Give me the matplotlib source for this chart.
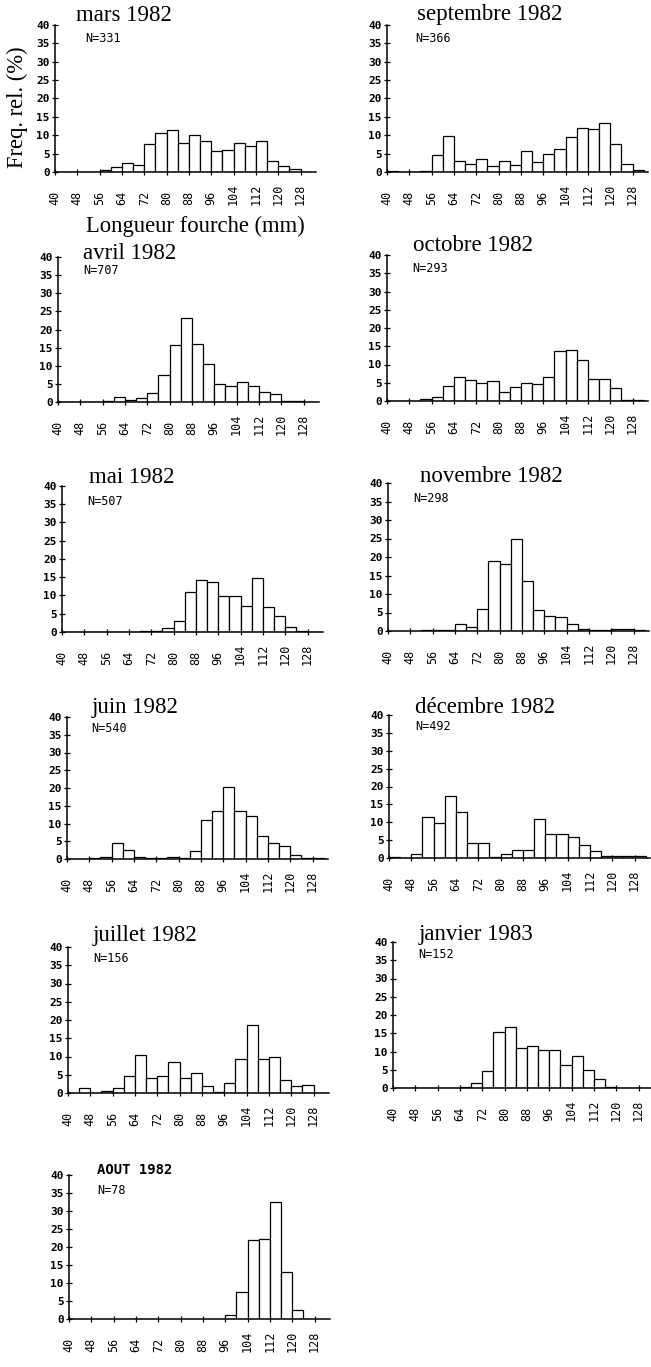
import numpy as np
import matplotlib
matplotlib.use("Agg")
import matplotlib.pyplot as plt

# ---------------- data ----------------
bin_starts = list(range(40, 132, 4))          # 4-mm length classes 40..128
x_ticks = list(range(40, 129, 8))
x_tick_labels = [str(v) for v in x_ticks]
y_ticks = list(range(0, 41, 5))
y_tick_labels = [str(v) for v in y_ticks]

mars = [0.1, 0.1, 0.1, 0.1, 0.5, 1.3, 2.5, 1.8, 7.7, 10.6, 11.4, 7.9, 10.2, 8.5,
        5.7, 6.1, 7.9, 7.0, 8.5, 3.0, 1.6, 0.9, 0.0]
septembre = [0.3, 0.1, 0.0, 0.3, 4.7, 9.7, 3.0, 2.3, 3.6, 1.6, 2.9, 1.8, 5.7, 2.7,
             4.8, 6.2, 9.4, 12.0, 11.7, 13.2, 7.7, 2.3, 0.6]
avril = [0.1, 0.1, 0.1, 0.1, 0.2, 1.4, 0.6, 1.1, 2.5, 7.5, 15.7, 23.3, 16.0, 10.6,
         4.9, 4.5, 5.5, 4.4, 2.7, 2.1, 0.4, 0.2, 0.1]
octobre = [0.1, 0.1, 0.1, 0.5, 1.2, 4.2, 6.7, 5.8, 5.0, 5.6, 2.4, 3.7, 5.0, 4.6,
           6.5, 13.8, 14.1, 11.1, 5.9, 5.9, 3.5, 0.3, 0.2]
mai = [0.1, 0.1, 0.1, 0.1, 0.1, 0.1, 0.1, 0.2, 0.2, 1.0, 3.0, 10.9, 14.2, 13.7,
       9.9, 9.9, 7.1, 14.8, 6.9, 4.5, 1.4, 0.2, 0.0]
novembre = [0.1, 0.1, 0.1, 0.2, 0.2, 0.3, 1.8, 1.0, 5.9, 19.0, 18.1, 24.8, 13.6,
            5.7, 4.1, 3.7, 1.8, 0.6, 0.4, 0.4, 0.5, 0.5, 0.4]
juin = [0.1, 0.0, 0.3, 0.6, 4.6, 2.6, 0.7, 0.2, 0.2, 0.5, 0.3, 2.2, 11.0, 13.5,
        20.2, 13.4, 12.2, 6.6, 4.4, 3.7, 1.2, 0.3, 0.3]
decembre = [0.2, 0.0, 1.2, 11.5, 9.9, 17.3, 13.0, 4.3, 4.3, 0.4, 1.0, 2.3, 2.3,
            10.8, 6.6, 6.7, 5.8, 3.6, 1.9, 0.6, 0.6, 0.6, 0.6]
juillet = [0.0, 1.3, 0.0, 0.5, 1.4, 4.6, 10.4, 4.0, 4.7, 8.5, 4.0, 5.5, 2.0, 0.3,
           2.7, 9.3, 18.6, 9.3, 10.0, 3.6, 1.9, 2.3, 0.0]
janvier = [0.0, 0.1, 0.1, 0.1, 0.1, 0.1, 0.2, 1.5, 4.7, 15.3, 16.6, 10.9, 11.6,
           10.3, 10.3, 6.4, 8.9, 5.0, 2.5, 0.2, 0.1, 0.1, 0.1]
aout = [0.1, 0.1, 0.1, 0.1, 0.1, 0.1, 0.1, 0.1, 0.1, 0.1, 0.1, 0.1, 0.1, 0.1,
        1.1, 7.6, 22.0, 22.2, 32.4, 13.0, 2.4, 0.0, 0.0]

titles = ["mars 1982", "septembre 1982", "avril 1982", "octobre 1982",
          "mai 1982", "novembre 1982", "juin 1982", "décembre 1982",
          "juillet 1982", "janvier 1983", "AOUT 1982"]
n_labels = ["N=331", "N=366", "N=707", "N=293", "N=507", "N=298", "N=540",
            "N=492", "N=156", "N=152", "N=78"]
series = [mars, septembre, avril, octobre, mai, novembre, juin, decembre,
          juillet, janvier, aout]

y_label = "Freq. rel. (%)"
x_label = "Longueur fourche (mm)"

# ---------------- layout (pixels) ----------------
W, H = 651, 1367
PX_PER_MM = 2.79
X_MAX = 133.5
# (axis x, y of 40, y of 0, title x, title baseline, N x, N y)
layout = [
    (55, 25, 172, 76, 21, 85, 39),
    (387, 25, 172, 417, 20, 415, 38),
    (58, 257, 402, 83, 259, 83, 270),
    (387, 255, 401, 413, 251, 412, 268),
    (62, 486, 632, 89, 483, 87, 502),
    (388, 483, 631, 420, 482, 413, 498),
    (67, 717, 859, 92, 713, 91, 728),
    (389, 715, 858, 415, 713, 415, 726),
    (68, 947, 1093, 93, 941, 93, 959),
    (393, 942, 1088, 419, 940, 418, 955),
    (69, 1175, 1319, 97, 1174, 97, 1190),
]

MONO = ["DejaVu Sans Mono"]
SERIF = ["Liberation Serif", "DejaVu Serif"]

fig = plt.figure(figsize=(W / 100, H / 100), dpi=100)

for i, (vals, title, nlab, lay) in enumerate(zip(series, titles, n_labels, layout)):
    ax_x, y40, y0, tx, ty, nx, ny = lay
    unit = (y0 - y40) / 40.0
    ytop = 40.3
    width_px = (X_MAX - 40) * PX_PER_MM
    height_px = ytop * unit
    ax = fig.add_axes([ax_x / W, 1 - y0 / H, width_px / W, height_px / H])
    ax.bar(bin_starts, vals, width=4, align="edge", facecolor="white",
           edgecolor="black", linewidth=0.9, zorder=2)
    ax.set_xlim(40, X_MAX)
    ax.set_ylim(0, ytop)
    for s in ("top", "right"):
        ax.spines[s].set_visible(False)
    for s in ("left", "bottom"):
        ax.spines[s].set_linewidth(1.1)
    ax.spines["left"].set_bounds(0, 40)
    ax.set_xticks(x_ticks)
    ax.set_xticklabels(x_tick_labels, rotation=90, va="bottom", ha="center",
                       family=MONO, fontsize=8.5)
    ax.set_yticks(y_ticks)
    ax.set_yticklabels(y_tick_labels, family=MONO, fontsize=8, fontweight="bold")
    ax.tick_params(axis="x", direction="inout", length=4.5, width=0.9, pad=21.5)
    ax.tick_params(axis="y", direction="inout", length=4.5, width=0.9, pad=1.5)
    ax.patch.set_alpha(0)

    if title.isupper():
        fig.text(tx / W, 1 - ty / H, title, family=MONO, fontsize=10,
                 fontweight="bold", va="baseline", ha="left")
    else:
        fig.text(tx / W, 1 - ty / H, title, family=SERIF, fontsize=16.5,
                 va="baseline", ha="left")
    fig.text(nx / W, 1 - ny / H, nlab, family=MONO, fontsize=8.5,
             va="center", ha="left")

fig.text(17 / W, 1 - 107 / H, y_label, family=SERIF, fontsize=16.3,
         rotation=90, va="center", ha="center")
fig.text(86 / W, 1 - 232 / H, x_label, family=SERIF, fontsize=16.3,
         va="baseline", ha="left")

fig.savefig("out.png", dpi=100, facecolor="white")
